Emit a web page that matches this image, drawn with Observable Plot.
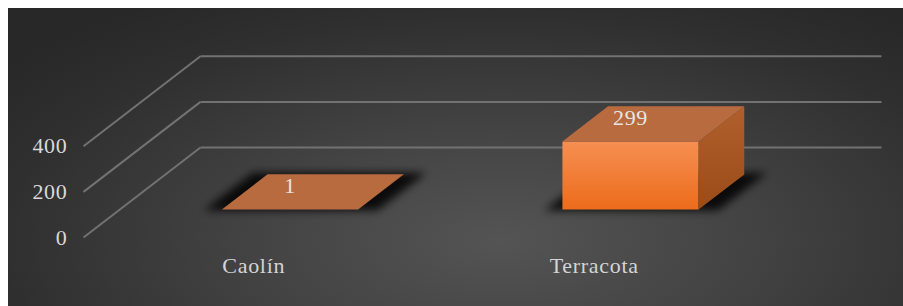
<!DOCTYPE html>
<html>
<head>
<meta charset="utf-8">
<script src="https://cdn.jsdelivr.net/npm/d3@7"></script>
<script src="https://cdn.jsdelivr.net/npm/@observablehq/plot@0.6"></script>
<style>
html, body { margin: 0; padding: 0; background: #ffffff; }
#wrap { position: relative; width: 903px; height: 306px; overflow: hidden; }
#bg { position: absolute; left: 8px; top: 8px; width: 895px; height: 298px;
  background: radial-gradient(ellipse 70% 95% at 55% 78%, #545454 0%, #434343 40%, #2f2f2f 80%, #282828 100%); }
#chart { position: absolute; left: 0; top: 0; }
#chart svg text { font-family: "Liberation Serif", "Times New Roman", serif !important; font-size: 22px; letter-spacing: 0.7px; }
</style>
</head>
<body>
<div id="wrap"><div id="bg"></div><div id="chart"></div></div>
<svg width="0" height="0" style="position:absolute">
  <defs>
    <linearGradient id="frontGrad" x1="0" y1="0" x2="0" y2="1">
      <stop offset="0" stop-color="#f68f52"/>
      <stop offset="1" stop-color="#ec6c1b"/>
    </linearGradient>
    <linearGradient id="sideGrad" x1="0" y1="0" x2="0" y2="1">
      <stop offset="0" stop-color="#b0602c"/>
      <stop offset="1" stop-color="#9a4b17"/>
    </linearGradient>
    <filter id="blurShadow" x="-30%" y="-60%" width="160%" height="220%">
      <feGaussianBlur stdDeviation="4.5"/>
    </filter>
  </defs>
</svg>
<script>
// ---- data ----
const categories = ["Caolín", "Terracota"];
const values = [1, 299];
const yTicks = [0, 200, 400];

// ---- oblique 3D projection (data units) ----
const KX = 0.3436;   // x-units shift per full depth
const KY = 394.7;    // value-units shift per full depth
const BX0 = 0.3, BX1 = 0.7;     // bar extent within category band
const ZF = 0.31, ZB = 0.70;     // bar front/back depth
const proj = (x, v, z) => ({x: x + z * KX, y: v + z * KY});

function poly(id, pts) { return pts.map(([x, v, z]) => ({id, ...proj(x, v, z)})); }

const fronts = [], sides = [], tops = [], shadows = [];
values.forEach((v, i) => {
  const x0 = i + BX0, x1 = i + BX1;
  fronts.push(...poly("f" + i, [[x0, 0, ZF], [x1, 0, ZF], [x1, v, ZF], [x0, v, ZF]]));
  sides.push(...poly("s" + i, [[x1, 0, ZF], [x1, 0, ZB], [x1, v, ZB], [x1, v, ZF]]));
  tops.push(...poly("t" + i, [[x0, v, ZF], [x1, v, ZF], [x1, v, ZB], [x0, v, ZB]]));
  shadows.push(...poly("h" + i, [[x0 - 0.05, 0, ZF - 0.01], [x1 + 0.06, 0, ZF - 0.01], [x1 + 0.06, 0, ZB + 0.02], [x0 - 0.05, 0, ZB + 0.02]]));
});

const gridLinks = [];
yTicks.forEach(t => {
  const a = proj(0, t, 0), b = proj(0, t, 1), c = proj(2, t, 1);
  gridLinks.push({x1: a.x, y1: a.y, x2: b.x, y2: b.y});
  gridLinks.push({x1: b.x, y1: b.y, x2: c.x, y2: c.y});
});

const fontFamily = "Liberation Serif, Times New Roman, serif";

const chart = Plot.plot({
  width: 903,
  height: 306,
  marginLeft: 83,
  marginRight: 139,
  marginTop: 8,
  marginBottom: 69,
  style: {background: "transparent", color: "#d9d9d9", fontFamily, fontSize: "22px", overflow: "visible"},
  x: {domain: [0, 2], range: [83, 764], axis: null},
  y: {domain: [0, 400], range: [237, 145.8], ticks: yTicks, tickSize: 0, tickPadding: 16, label: null, tickFormat: d => String(d)},
  marks: [
    Plot.link(gridLinks, {x1: "x1", y1: "y1", x2: "x2", y2: "y2", stroke: "#727272", strokeWidth: 2}),
    Plot.line(shadows, {x: "x", y: "y", z: "id", fill: "#000001", fillOpacity: 0.85, stroke: "none", curve: "linear-closed"}),
    Plot.line(fronts, {x: "x", y: "y", z: "id", fill: "url(#frontGrad)", stroke: "none", curve: "linear-closed"}),
    Plot.line(sides, {x: "x", y: "y", z: "id", fill: "url(#sideGrad)", stroke: "none", curve: "linear-closed"}),
    Plot.line(tops, {x: "x", y: "y", z: "id", fill: "#b96b40", stroke: "none", curve: "linear-closed"}),
    Plot.text(values, {x: (d, i) => proj(i + 0.5, d, ZF).x, y: (d, i) => proj(i + 0.5, d, ZF).y, dy: -23,
      text: d => String(d), fill: "#e6e6e6", fontSize: 22, fontFamily}),
    Plot.text(categories, {x: (d, i) => i + 0.5, y: () => 0, dy: 28, text: d => d, fill: "#d4d4d4", fontSize: 22, fontFamily})
  ]
});

d3.select(chart).selectAll('g[fill="#000001"]').attr("fill", "#000").attr("filter", "url(#blurShadow)");
d3.select(chart).selectAll("text").attr("font-family", fontFamily).attr("font-size", 22);
document.getElementById("chart").appendChild(chart);
</script>
</body>
</html>
